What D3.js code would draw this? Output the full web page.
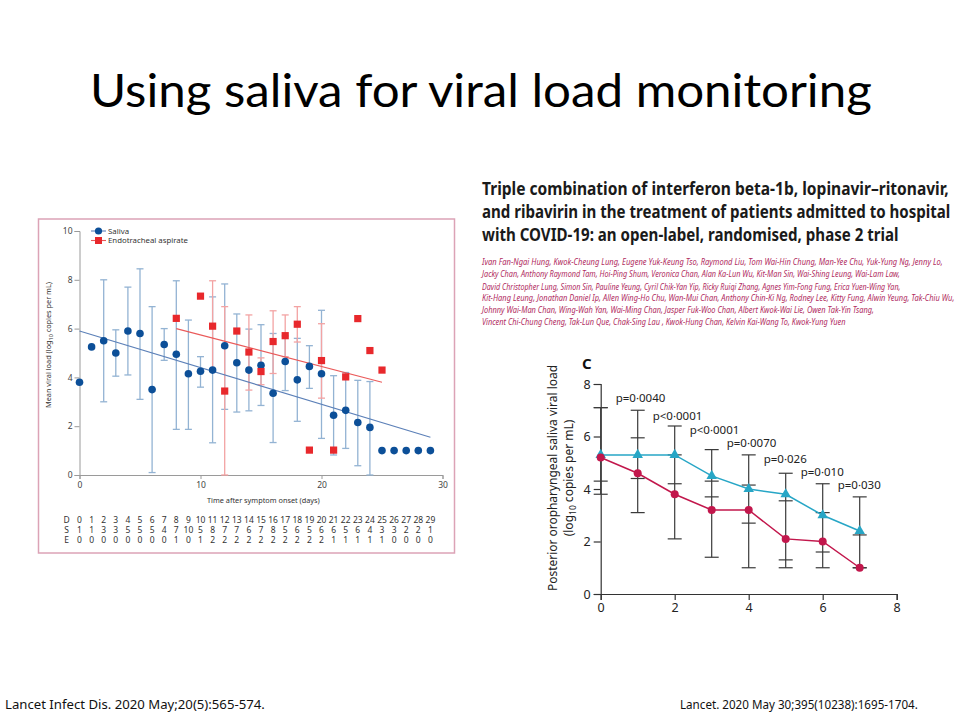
<!DOCTYPE html>
<html><head><meta charset="utf-8">
<script src="https://cdn.jsdelivr.net/npm/d3@7"></script>
<style>html,body{margin:0;padding:0;background:#fff;}svg{display:block;}</style>
</head><body>
<script>
// ---------- Left chart data (Lancet Infect Dis) ----------
const days = [0,1,2,3,4,5,6,7,8,9,10,11,12,13,14,15,16,17,18,19,20,21,22,23,24,25,26,27,28,29];
const salivaMean = [3.8,5.25,5.5,5.0,5.9,5.8,3.5,5.35,4.95,4.15,4.25,4.3,5.3,4.6,4.3,4.5,3.35,4.65,3.9,4.45,4.15,2.45,2.65,2.15,1.95,1.0,1.0,1.0,1.0,1.0];
const salivaLow  = [null,null,3.0,4.05,4.1,3.1,0.1,4.7,1.87,1.87,3.6,1.32,2.69,2.58,2.63,2.85,1.33,3.46,2.2,3.55,1.5,0.82,1.09,0.38,0,null,null,null,null,null];
const salivaHigh = [null,null,8.0,5.95,7.7,8.45,6.9,6.0,7.96,6.35,4.85,7.3,7.83,6.6,5.98,6.16,5.8,5.7,5.6,5.3,6.75,4.07,4.2,3.88,3.83,null,null,null,null,null];
const etDays = [8,10,11,12,13,14,15,16,17,18,19,20,21,22,23,24,25];
const etMean = [6.42,7.33,6.1,3.44,5.9,5.04,4.24,5.47,5.71,6.18,1.02,4.69,1.02,4.02,6.41,5.1,4.3];
const etLow  = [null,null,4.25,0,null,3.48,3.7,4.16,4.85,5.45,null,3.15,null,null,null,null,null];
const etHigh = [null,null,7.96,6.9,null,6.56,4.8,6.73,6.56,6.9,null,6.2,null,null,null,null,null];
const salivaTrend = [[0,5.9],[29,1.55]];
const etTrend = [[8,6.0],[25,3.8]];
const rowD = days;
const rowS = [1,1,3,3,5,5,5,4,7,10,5,8,7,7,6,7,8,5,6,5,6,6,5,6,4,3,3,2,2,1];
const rowE = [0,0,0,0,0,0,0,0,1,0,1,2,2,2,2,2,2,2,2,2,2,1,1,1,1,1,0,0,0,0];
const leftYTicks = [0,2,4,6,8,10];
const leftXTicks = [0,10,20,30];

// ---------- Right chart data (Lancet) ----------
const rDays = [0,1,2,3,4,5,6,7];
const cyanMean = [5.3,5.3,5.3,4.5,4.0,3.8,3.0,2.4];
const cyanLow  = [4.3,4.4,4.2,3.7,2.7,1.3,1.6,1.0];
const cyanHigh = [7.1,7.0,6.4,5.5,5.3,4.6,4.2,3.7];
const redMean  = [5.2,4.6,3.8,3.2,3.2,2.1,2.0,1.0];
const redLow   = [3.8,3.1,2.1,1.4,1.0,1.0,1.0,1.0];
const redHigh  = [7.1,5.95,5.3,4.3,4.15,3.55,3.1,2.25];
const pLabels = [null,"p=0·0040","p<0·0001","p<0·0001","p=0·0070","p=0·026","p=0·010","p=0·030"];
const rightTicks = [0,2,4,6,8];

const titleText = "Using saliva for viral load monitoring";
const paperTitle = ["Triple combination of interferon beta-1b, lopinavir–ritonavir,",
  "and ribavirin in the treatment of patients admitted to hospital",
  "with COVID-19: an open-label, randomised, phase 2 trial"];
const authors = [
 "Ivan Fan-Ngai Hung, Kwok-Cheung Lung, Eugene Yuk-Keung Tso, Raymond Liu, Tom Wai-Hin Chung, Man-Yee Chu, Yuk-Yung Ng, Jenny Lo,",
 "Jacky Chan, Anthony Raymond Tam, Hoi-Ping Shum, Veronica Chan, Alan Ka-Lun Wu, Kit-Man Sin, Wai-Shing Leung, Wai-Lam Law,",
 "David Christopher Lung, Simon Sin, Pauline Yeung, Cyril Chik-Yan Yip, Ricky Ruiqi Zhang, Agnes Yim-Fong Fung, Erica Yuen-Wing Yan,",
 "Kit-Hang Leung, Jonathan Daniel Ip, Allen Wing-Ho Chu, Wan-Mui Chan, Anthony Chin-Ki Ng, Rodney Lee, Kitty Fung, Alwin Yeung, Tak-Chiu Wu,",
 "Johnny Wai-Man Chan, Wing-Wah Yan, Wai-Ming Chan, Jasper Fuk-Woo Chan, Albert Kwok-Wai Lie, Owen Tak-Yin Tsang,",
 "Vincent Chi-Chung Cheng, Tak-Lun Que, Chak-Sing Lau , Kwok-Hung Chan, Kelvin Kai-Wang To, Kwok-Yung Yuen"];
const refLeft = "Lancet Infect Dis. 2020 May;20(5):565-574.";
const refRight = "Lancet. 2020 May 30;395(10238):1695-1704.";

// ---------- helpers ----------
const svg = d3.select("body").append("svg").attr("width",960).attr("height",720)
  .style("font-family","'Noto Sans', 'Open Sans', sans-serif");
svg.append("rect").attr("width",960).attr("height",720).attr("fill","#fff");

// place a horizontal text so that it spans exactly `w` px starting at (x,y)
function fitText(parent, str, x, y, w, styles){
  const t = parent.append("text").attr("x",0).attr("y",0).text(str);
  Object.entries(styles).forEach(([k,v])=>t.style(k,v));
  const n = t.node().getComputedTextLength();
  t.attr("transform",`translate(${x},${y}) scale(${(w/n).toFixed(4)},1)`);
  return t;
}

// slide title
fitText(svg, titleText, 90, 107, 782, {"font-family":"Lato, 'Open Sans', sans-serif","font-size":"46px","fill":"#000"});

// ---------- left chart ----------
const L = svg.append("g");
L.append("rect").attr("x",38.5).attr("y",219).attr("width",416).attr("height",334)
  .attr("fill","none").attr("stroke","#dca3b6").attr("stroke-width",1.5);
const xL = d3.scaleLinear().domain([0,30]).range([79.5,442.5]);
const yL = d3.scaleLinear().domain([0,10]).range([475,231]);

const gxL = L.append("g").attr("transform","translate(0,475)")
  .call(d3.axisBottom(xL).tickValues(leftXTicks).tickSize(4).tickPadding(3));
const gyL = L.append("g").attr("transform","translate(79.5,0)")
  .call(d3.axisLeft(yL).tickValues(leftYTicks).tickSize(5).tickPadding(2));
[gxL,gyL].forEach(g=>{
  g.select(".domain").attr("stroke","#9a9a9a");
  g.selectAll(".tick line").attr("stroke","#9a9a9a");
  g.selectAll(".tick text").attr("fill","#444").style("font-size","8.5px").style("font-family","'Noto Sans', sans-serif");
});
L.append("text").attr("transform","translate(51,345) rotate(-90)").attr("text-anchor","middle")
  .style("font-size","7.5px").attr("fill","#333").attr("textLength",126).attr("lengthAdjust","spacingAndGlyphs")
  .html('Mean viral load (log<tspan font-size="5.5px" dy="2">10</tspan><tspan dy="-2"> copies per mL)</tspan>');
fitText(L, "Time after symptom onset (days)", 207, 503, 113, {"font-size":"8px","fill":"#333"});

// saliva error bars
const blueErr = "#93b3d3", redErr = "#f3a3a3";
days.forEach((d,i)=>{
  if(salivaLow[i]==null) return;
  const x = xL(d);
  L.append("line").attr("x1",x).attr("x2",x).attr("y1",yL(salivaLow[i])).attr("y2",yL(salivaHigh[i])).attr("stroke",blueErr).attr("stroke-width",1.3);
  [salivaLow[i],salivaHigh[i]].forEach(v=>L.append("line").attr("x1",x-3.5).attr("x2",x+3.5).attr("y1",yL(v)).attr("y2",yL(v)).attr("stroke",blueErr).attr("stroke-width",1.3));
});
etDays.forEach((d,i)=>{
  if(etLow[i]==null) return;
  const x = xL(d);
  L.append("line").attr("x1",x).attr("x2",x).attr("y1",yL(etLow[i])).attr("y2",yL(etHigh[i])).attr("stroke",redErr).attr("stroke-width",1.3);
  [etLow[i],etHigh[i]].forEach(v=>L.append("line").attr("x1",x-3.5).attr("x2",x+3.5).attr("y1",yL(v)).attr("y2",yL(v)).attr("stroke",redErr).attr("stroke-width",1.3));
});
// trend lines
const lineL = d3.line().x(d=>xL(d[0])).y(d=>yL(d[1]));
L.append("path").attr("d",lineL(salivaTrend)).attr("stroke","#5c80b8").attr("stroke-width",1.1).attr("fill","none");
L.append("path").attr("d",lineL(etTrend)).attr("stroke","#ea5a5a").attr("stroke-width",1.1).attr("fill","none");
// points
L.selectAll("circle.sal").data(days).enter().append("circle").attr("class","sal")
  .attr("cx",d=>xL(d)).attr("cy",(d,i)=>yL(salivaMean[i])).attr("r",3.8).attr("fill","#0c4f98");
L.selectAll("rect.et").data(etDays).enter().append("rect").attr("class","et")
  .attr("x",d=>xL(d)-3.6).attr("y",(d,i)=>yL(etMean[i])-3.6).attr("width",7.2).attr("height",7.2).attr("fill","#e8282c");
// legend
L.append("line").attr("x1",91).attr("x2",106).attr("y1",231).attr("y2",231).attr("stroke","#5c80b8").attr("stroke-width",1.1);
L.append("circle").attr("cx",98.5).attr("cy",231).attr("r",3.6).attr("fill","#0c4f98");
L.append("text").attr("x",108).attr("y",233.8).style("font-size","7.8px").attr("fill","#333").text("Saliva");
L.append("line").attr("x1",91).attr("x2",106).attr("y1",240.5).attr("y2",240.5).attr("stroke","#ea5a5a").attr("stroke-width",1.1);
L.append("rect").attr("x",95).attr("y",237).attr("width",7).attr("height",7).attr("fill","#e8282c");
L.append("text").attr("x",108).attr("y",243.3).style("font-size","7.8px").attr("fill","#333").text("Endotracheal aspirate");
// table
const rows = [["D",rowD,523],["S",rowS,533],["E",rowE,543]];
rows.forEach(([lab,vals,y])=>{
  L.append("text").attr("x",66.5).attr("y",y).attr("text-anchor","middle").style("font-size","8.5px").attr("fill","#333").text(lab);
  L.selectAll(null).data(vals).enter().append("text").attr("x",(v,i)=>xL(days[i])).attr("y",y)
    .attr("text-anchor","middle").style("font-size","8.5px").attr("fill","#333").text(v=>v);
});

// ---------- right: paper header ----------
const lineW = [467,469,417];
paperTitle.forEach((t,i)=>{
  fitText(svg, t, 482, 195+i*23, lineW[i], {"font-size":"17px","font-weight":"bold","fill":"#1a1a1a"});
});
const authW = [461,419,419,473,393,364];
const authY = [265,277,290,301,313,324.5];
authors.forEach((t,i)=>{
  fitText(svg, t, 482, authY[i], authW[i], {"font-size":"8.5px","font-style":"italic","fill":"#b02a5e"});
});

// ---------- right chart ----------
const R = svg.append("g");
const xR = d3.scaleLinear().domain([0,8]).range([600.7,896.7]);
const yR = d3.scaleLinear().domain([0,8]).range([594,384]);
const gxR = R.append("g").attr("transform","translate(0,594)").call(d3.axisBottom(xR).tickValues(rightTicks).tickSize(6).tickPadding(3));
const gyR = R.append("g").attr("transform","translate(600.7,0)").call(d3.axisLeft(yR).tickValues(rightTicks).tickSize(7).tickPadding(3));
[gxR,gyR].forEach(g=>{
  g.select(".domain").attr("stroke","#333").attr("stroke-width",1.2);
  g.selectAll(".tick line").attr("stroke","#333").attr("stroke-width",1.2);
  g.selectAll(".tick text").attr("fill","#222").style("font-size","12.5px").style("font-family","'Noto Sans', sans-serif");
});
R.append("text").attr("x",582).attr("y",369).style("font-size","15px").style("font-weight","bold").attr("fill","#111").text("C");
R.append("text").attr("transform","translate(557,478) rotate(-90)").attr("text-anchor","middle")
  .style("font-size","12px").attr("fill","#222").attr("textLength",226).attr("lengthAdjust","spacingAndGlyphs")
  .text("Posterior oropharyngeal saliva viral load");
R.append("text").attr("transform","translate(573,478) rotate(-90)").attr("text-anchor","middle")
  .style("font-size","12px").attr("fill","#222")
  .html('(log<tspan font-size="8.5px" dy="3">10</tspan><tspan dy="-3"> copies per mL)</tspan>');

// error bars
const errCol = "#3a3a3a";
rDays.forEach((d,i)=>{
  const x = xR(d);
  const lo = Math.min(cyanLow[i],redLow[i]), hi = Math.max(cyanHigh[i],redHigh[i]);
  R.append("line").attr("x1",x).attr("x2",x).attr("y1",yR(lo)).attr("y2",yR(hi)).attr("stroke",errCol).attr("stroke-width",1.2);
  [cyanLow[i],cyanHigh[i],redLow[i],redHigh[i]].forEach(v=>
    R.append("line").attr("x1",x-7).attr("x2",x+7).attr("y1",yR(v)).attr("y2",yR(v)).attr("stroke",errCol).attr("stroke-width",1.2));
});
const lineR = d3.line().x((d,i)=>xR(rDays[i])).y(d=>yR(d));
R.append("path").attr("d",lineR(cyanMean)).attr("stroke","#27a6c6").attr("stroke-width",1.5).attr("fill","none");
R.append("path").attr("d",lineR(redMean)).attr("stroke","#c2174c").attr("stroke-width",1.5).attr("fill","none");
const tri = d3.symbol().type(d3.symbolTriangle).size(48);
R.selectAll("path.tri").data(rDays).enter().append("path").attr("class","tri").attr("d",tri)
  .attr("transform",(d,i)=>`translate(${xR(d)},${yR(cyanMean[i])})`).attr("fill","#27a6c6");
R.selectAll("circle.rc").data(rDays).enter().append("circle").attr("class","rc")
  .attr("cx",d=>xR(d)).attr("cy",(d,i)=>yR(redMean[i])).attr("r",4).attr("fill","#c2174c");
// label gap above the top cap (layout only)
const pGap = [0,8,6,16,8,10,8,8];
rDays.forEach((d,i)=>{
  if(!pLabels[i]) return;
  R.append("text").attr("x",xR(d)-22).attr("y",yR(Math.max(cyanHigh[i],redHigh[i]))-pGap[i])
    .style("font-size","11.5px").attr("fill","#222").text(pLabels[i]);
});

// references
fitText(svg, refLeft, 5, 709, 260, {"font-size":"12px","fill":"#111"});
fitText(svg, refRight, 680, 709, 238, {"font-size":"12px","fill":"#111"});
</script>
</body></html>
